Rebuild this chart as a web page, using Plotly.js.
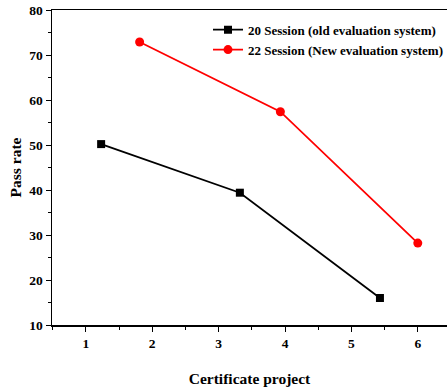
<!DOCTYPE html>
<html>
<head>
<meta charset="utf-8">
<script src="https://cdn.plot.ly/plotly-3.0.1.min.js"></script>
<style>html,body{margin:0;padding:0;background:#fff;}#chart{width:448px;height:392px;}</style>
</head>
<body>
<div id="chart"></div>
<script>
const oldX = [1.23, 3.32, 5.43];
const oldY = [50.2, 39.4, 16.0];
const newX = [1.81, 3.93, 6.0];
const newY = [72.9, 57.4, 28.2];
const oldName = "20 Session (old evaluation system)";
const newName = "22 Session (New evaluation system)";
const xTitle = "Certificate project";
const yTitle = "Pass rate";

const font = {family: "Liberation Serif, Times New Roman, serif", color: "#000"};

const traces = [
  {x: oldX, y: oldY, name: oldName, mode: "lines+markers", type: "scatter",
   line: {color: "#000", width: 1.8}, marker: {symbol: "square", size: 8, color: "#000"}},
  {x: newX, y: newY, name: newName, mode: "lines+markers", type: "scatter",
   line: {color: "#ff0000", width: 1.8}, marker: {symbol: "circle", size: 9, color: "#ff0000"}}
];

const layout = {
  width: 448, height: 392,
  margin: {l: 52, r: 0, t: 10, b: 67},
  paper_bgcolor: "#fff", plot_bgcolor: "#fff",
  font: Object.assign({size: 13}, font),
  showlegend: true,
  legend: {x: 0.395, y: 0.985, xanchor: "left", yanchor: "top", bgcolor: "rgba(0,0,0,0)",
           font: Object.assign({size: 13, weight: "bold"}, font), tracegroupgap: 0, itemwidth: 30},
  xaxis: {
    range: [0.49, 6.44], tickmode: "linear", tick0: 1, dtick: 1,
    showgrid: false, zeroline: false, showline: true, linecolor: "#000", linewidth: 1.5, mirror: true,
    ticks: "outside", ticklen: 5, tickwidth: 1, tickcolor: "#000",
    minor: {ticks: "outside", dtick: 0.5, tick0: 0.5, ticklen: 3, tickcolor: "#000", showgrid: false},
    tickfont: Object.assign({size: 13.5, weight: "bold"}, font),
    title: {text: xTitle, font: Object.assign({size: 15.5, weight: "bold"}, font), standoff: 23}
  },
  yaxis: {
    range: [10, 80], tickmode: "linear", tick0: 10, dtick: 10,
    showgrid: false, zeroline: false, showline: true, linecolor: "#000", linewidth: 1.5, mirror: false,
    ticks: "outside", ticklen: 5, tickwidth: 1, tickcolor: "#000",
    minor: {ticks: "outside", dtick: 5, ticklen: 3, tickcolor: "#000", showgrid: false},
    tickfont: Object.assign({size: 13.5, weight: "bold"}, font),
    title: {text: yTitle, font: Object.assign({size: 15.5, weight: "bold"}, font), standoff: 4}
  }
};

Plotly.newPlot("chart", traces, layout, {displayModeBar: false, staticPlot: true});
</script>
</body>
</html>
